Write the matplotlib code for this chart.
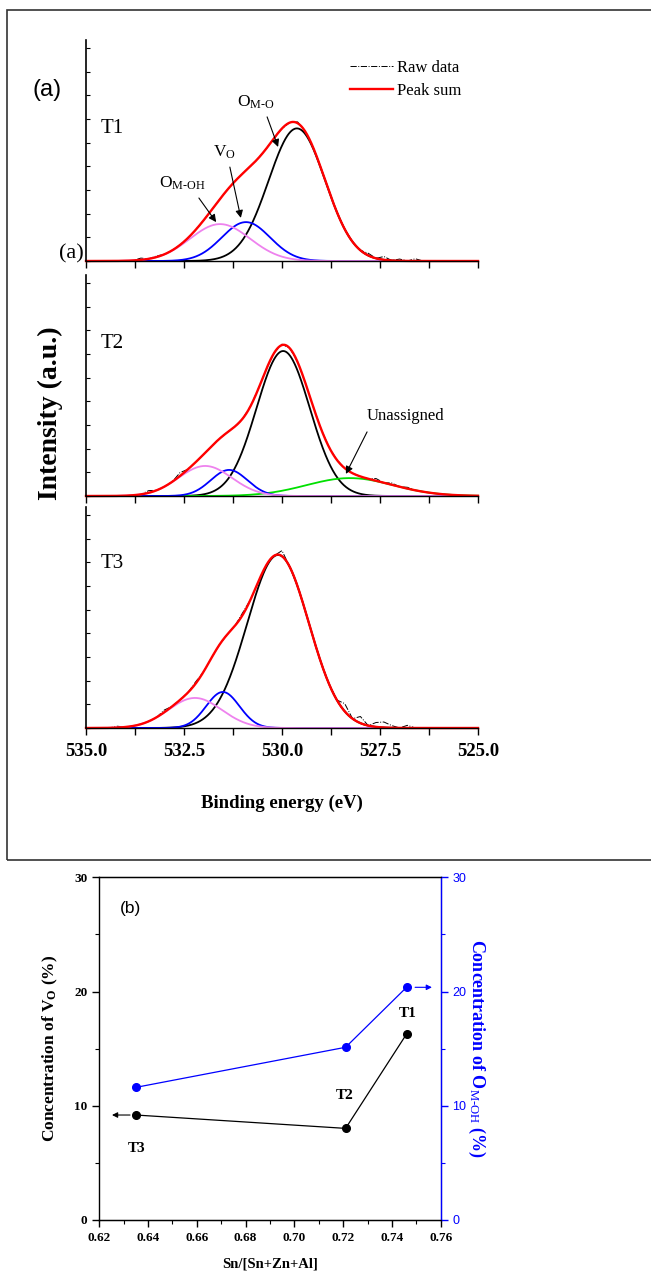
"""O 1s XPS fits (a) and oxygen species concentration (b)."""
import numpy as np
import matplotlib
matplotlib.use("Agg")
import matplotlib.pyplot as plt
from matplotlib.patches import Rectangle
from matplotlib.ticker import MultipleLocator

plt.rcParams['font.family'] = ['Liberation Serif', 'DejaVu Serif']
plt.rcParams['mathtext.fontset'] = 'custom'
plt.rcParams['mathtext.rm'] = 'Liberation Serif'
plt.rcParams['mathtext.it'] = 'Liberation Serif:italic'
plt.rcParams['mathtext.bf'] = 'Liberation Serif:bold'

# ---- panel (a) data: fitted peak parameters (center eV, height, fwhm eV) ----
samples = ["T1", "T2", "T3"]
peak_omo = [(529.62, 0.600, 1.70), (529.97, 0.656, 1.60), (530.10, 0.783, 1.85)]
peak_vo = [(530.92, 0.176, 1.45), (531.35, 0.118, 1.10), (531.51, 0.163, 1.00)]
peak_omoh = [(531.58, 0.167, 1.80), (531.96, 0.136, 1.60), (532.22, 0.136, 1.60)]
peak_unassigned = [None, (528.27, 0.081, 2.60), None]

# raw data read as deviations from the peak sum (energy eV: offset)
raw_dev = [
    {533.6: 0.008, 533.2: 0.005, 529.6: 0.006, 527.8: 0.010, 527.4: 0.015,
     527.0: 0.008, 526.6: 0.010},
    {533.4: 0.010, 532.6: 0.015, 530.0: 0.004, 527.6: 0.010, 527.2: 0.008,
     526.8: 0.006},
    {534.2: 0.006, 533.0: 0.010, 532.2: 0.008, 531.0: 0.010, 530.0: 0.025,
     528.4: 0.035, 528.0: 0.030, 527.6: 0.020, 527.4: 0.025, 527.2: 0.010,
     526.8: 0.012},
]

# ---- panel (b) data ----
sn_ratio = [0.635, 0.721, 0.746]
sn_labels = ["T3", "T2", "T1"]
conc_vo = [9.19, 8.02, 16.28]
conc_omoh = [11.61, 15.12, 20.37]


def gauss(x, p):
    c, h, w = p
    s = w / 2.3548
    return h * np.exp(-(x - c) ** 2 / (2 * s * s))


W, H = 651, 1274
fig = plt.figure(figsize=(W / 100, H / 100), dpi=100)


def fx(px):
    return px / W


def fy(py):
    return 1 - py / H


# frame around panel (a)
fig.add_artist(Rectangle((fx(7), fy(860)), fx(700), (860 - 10) / H,
                         fill=False, lw=1.2, ec='#333333', transform=fig.transFigure))

ax_tops = [40, 275, 507]
label_y = [128, 344, 563]
ax_h = 221
e = np.linspace(535, 525, 801)
e_raw = np.round(np.arange(535.0, 524.99, -0.2), 1)
axes_a = []
for i, name in enumerate(samples):
    top = ax_tops[i]
    ax = fig.add_axes([fx(86), fy(top + ax_h), fx(392), ax_h / H])
    axes_a.append(ax)
    comps = [peak_omo[i], peak_vo[i], peak_omoh[i]]
    if peak_unassigned[i] is not None:
        comps.append(peak_unassigned[i])
    total = sum(gauss(e, p) for p in comps)
    total_raw = sum(gauss(e_raw, p) for p in comps)
    raw = total_raw + np.array([raw_dev[i].get(v, 0.0) for v in e_raw])

    ax.plot(e_raw, raw, color='k', lw=0.7, ls='-.', clip_on=False, label='Raw data')
    ax.plot(e, gauss(e, peak_omo[i]), color='k', lw=1.3, clip_on=False)
    if peak_unassigned[i] is not None:
        ax.plot(e, gauss(e, peak_unassigned[i]), color='#00e000', lw=1.3, clip_on=False)
    ax.plot(e, gauss(e, peak_vo[i]), color='#0000ff', lw=1.3, clip_on=False)
    ax.plot(e, gauss(e, peak_omoh[i]), color='#ee82ee', lw=1.3, clip_on=False)
    ax.plot(e, total, color='#ff0000', lw=1.7, clip_on=False, label='Peak sum')

    ax.set_xlim(535, 525)
    ax.set_ylim(0, 1)
    ax.spines['top'].set_visible(False)
    ax.spines['right'].set_visible(False)
    ax.spines['left'].set_linewidth(1.2)
    ax.spines['bottom'].set_linewidth(1.0)
    ax.xaxis.set_major_locator(MultipleLocator(2.5))
    ax.xaxis.set_minor_locator(MultipleLocator(1.25))
    ax.tick_params(axis='x', which='both', direction='out', length=5, width=1.0, pad=6)
    ax.yaxis.set_major_locator(MultipleLocator(0.107))
    ax.tick_params(axis='y', which='major', direction='in', length=3, width=0.8,
                   labelleft=False)
    ax.text(534.62, (top + ax_h - label_y[i]) / ax_h, name,
            fontsize=15, va='center', ha='left')
    if i < 2:
        ax.tick_params(axis='x', labelbottom=False)
    else:
        ax.xaxis.set_major_formatter(matplotlib.ticker.FormatStrFormatter('%.1f'))
        for lab in ax.get_xticklabels():
            lab.set_fontweight('bold')
            lab.set_fontsize(13.5)
        ax.set_xlabel('Binding energy (eV)', fontsize=13.5, fontweight='bold',
                      labelpad=25)

ax1, ax2, ax3 = axes_a
ax1.legend(loc='upper left', bbox_to_anchor=(fx(350), fy(60)),
           bbox_transform=fig.transFigure, frameon=False, fontsize=12,
           handlelength=2.6, handletextpad=0.2, labelspacing=0.4,
           borderpad=0, borderaxespad=0)

arrow = dict(arrowstyle='-|>', color='k', lw=0.8, mutation_scale=11, shrinkA=0, shrinkB=0)
ax1.text(531.15, 0.697, 'O$_{\\mathrm{M\u2010O}}$', fontsize=12.5, ha='left', va='baseline')
ax1.annotate('', xy=(530.10, 0.516), xytext=(530.38, 0.652), arrowprops=arrow)
ax1.text(531.76, 0.471, 'V$_{\\mathrm{O}}$', fontsize=12.5, ha='left', va='baseline')
ax1.annotate('', xy=(531.05, 0.195), xytext=(531.33, 0.425), arrowprops=arrow)
ax1.text(533.14, 0.330, 'O$_{\\mathrm{M\u2010OH}}$', fontsize=12.5, ha='left', va='baseline')
ax1.annotate('', xy=(531.68, 0.176), xytext=(532.12, 0.285), arrowprops=arrow)
ax2.text(527.83, 0.344, 'Unassigned', fontsize=12, ha='left', va='baseline')
ax2.annotate('', xy=(528.37, 0.100), xytext=(527.83, 0.290), arrowprops=arrow)

fig.text(fx(84), fy(254), '(a)', fontsize=16, ha='right', va='center')
fig.text(fx(32), fy(90), '(a)', fontsize=17, ha='left', va='center',
         family='Liberation Sans')
fig.text(fx(50), fy(413), 'Intensity (a.u.)', fontsize=20, fontweight='bold',
         rotation=90, ha='center', va='center')

# ---- panel (b) ----
axb = fig.add_axes([fx(99.3), fy(1220), fx(341.4), 342.7 / H])
axr = axb.twinx()
axb.plot(sn_ratio, conc_vo, color='k', lw=0.9, marker='o', ms=5.5)
axr.plot(sn_ratio, conc_omoh, color='#0000ff', lw=0.9, marker='o', ms=5.5)
axb.set_xlim(0.62, 0.76)
axb.set_ylim(0, 30)
axr.set_ylim(0, 30)
axb.xaxis.set_major_locator(MultipleLocator(0.02))
axb.xaxis.set_minor_locator(MultipleLocator(0.01))
axb.yaxis.set_major_locator(MultipleLocator(10))
axb.yaxis.set_minor_locator(MultipleLocator(5))
axr.yaxis.set_major_locator(MultipleLocator(10))
axr.yaxis.set_minor_locator(MultipleLocator(5))
axb.tick_params(which='major', direction='out', length=5, width=1.0, labelsize=9.5)
axb.tick_params(which='minor', direction='out', length=3, width=0.8)
axb.tick_params(axis='y', right=False)
axr.tick_params(which='major', direction='out', length=5, width=1.0, colors='#0000ff',
                labelsize=9)
axr.tick_params(which='minor', direction='out', length=3, width=0.8, colors='#0000ff')
axb.xaxis.set_major_formatter(matplotlib.ticker.FormatStrFormatter('%.2f'))
for lab in axb.get_xticklabels() + axb.get_yticklabels():
    lab.set_fontweight('bold')
for lab in axr.get_yticklabels():
    lab.set_family('Liberation Sans')
for sp in ['left', 'bottom', 'top']:
    axb.spines[sp].set_linewidth(1.0)
axr.spines['right'].set_color('#0000ff')
axr.spines['right'].set_linewidth(1.0)
axr.spines['left'].set_visible(False)

axb.set_xlabel('Sn/[Sn+Zn+Al]', fontsize=10.5, fontweight='bold', labelpad=10)
axb.set_ylabel('Concentration of V$_{\\mathbf{O}}$ (%)', fontsize=12.5,
               fontweight='bold', labelpad=10)
axr.set_ylabel('Concentration of O$_{\\mathrm{M\u2010OH}}$ (%)', fontsize=13,
               fontweight='bold', color='#0000ff', rotation=270, labelpad=15)

label_off = [(0.6352, 6.3), (0.7205, 10.9), (0.7465, 18.1)]
for (tx, ty), lab in zip(label_off, sn_labels):
    axb.text(tx, ty, lab, fontsize=11, fontweight='bold', ha='center', va='center')

axb.annotate('', xy=(0.6252, conc_vo[0]), xytext=(0.6326, conc_vo[0]),
             arrowprops=dict(arrowstyle='-|>', color='k', lw=0.8, mutation_scale=8,
                             shrinkA=0, shrinkB=0))
axr.annotate('', xy=(0.7564, conc_omoh[2]), xytext=(0.7495, conc_omoh[2]),
             arrowprops=dict(arrowstyle='-|>', color='#0000ff', lw=0.8, mutation_scale=8,
                             shrinkA=0, shrinkB=0))
axb.text(0.6283, 27.3, '(b)', fontsize=12.5, family='Liberation Sans', ha='left', va='center')

fig.savefig('out.png', dpi=100)
